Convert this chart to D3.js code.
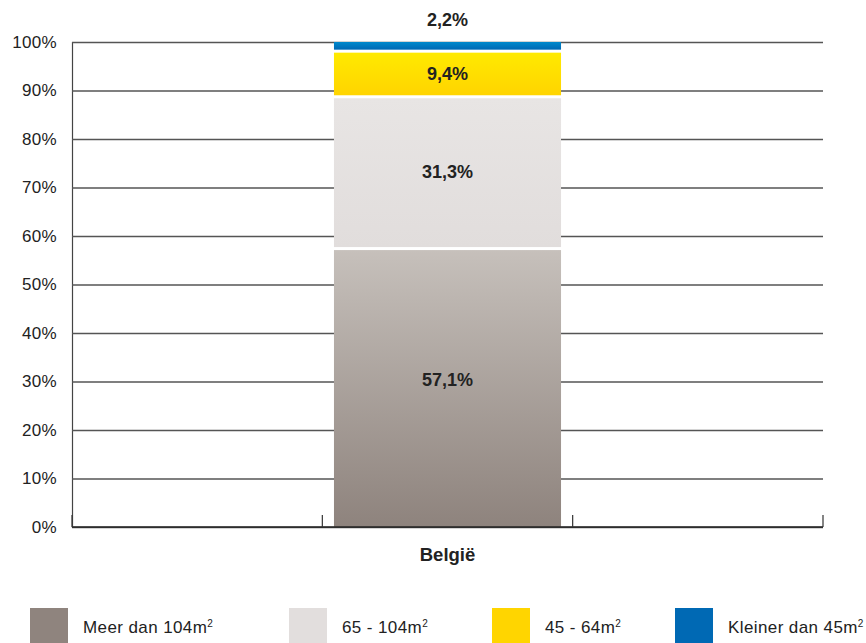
<!DOCTYPE html>
<html>
<head>
<meta charset="utf-8">
<script src="https://cdn.jsdelivr.net/npm/d3@7"></script>
<style>
  body { margin: 0; background: #fff; }
  text { font-family: "Liberation Sans", Arial, Helvetica, sans-serif; fill: #222; }
</style>
</head>
<body>
<div id="chart"></div>
<script>
// categories on the x axis (only the middle one has data)
const categories = ["", "België", " "];
const seriesNames = ["Meer dan 104m", "65 - 104m", "45 - 64m", "Kleiner dan 45m"];
const seriesValues = [57.1, 31.3, 9.4, 2.2];   // België, % share
const seriesColors = [
  ["#c6c0bb", "#8e837d"],   // top, bottom of gradient
  ["#e8e5e4", "#e1dddc"],
  ["#ffea00", "#ffd400"],
  ["#0089cc", "#0068b3"]
];
const legendColors = ["#8f847e", "#e2dedd", "#ffd500", "#0069b4"];
const yTicks = [0, 10, 20, 30, 40, 50, 60, 70, 80, 90, 100];

const width = 866, height = 643;
const margin = { top: 42, right: 43, bottom: 116, left: 72 };
const innerW = width - margin.left - margin.right;
const innerH = height - margin.top - margin.bottom;

const svg = d3.select("#chart").append("svg")
  .attr("width", width)
  .attr("height", height);

const defs = svg.append("defs");
seriesColors.forEach((c, i) => {
  const g = defs.append("linearGradient")
    .attr("id", "grad" + i)
    .attr("x1", 0).attr("y1", 0).attr("x2", 0).attr("y2", 1);
  g.append("stop").attr("offset", "0%").attr("stop-color", c[0]);
  g.append("stop").attr("offset", "100%").attr("stop-color", c[1]);
});

const chart = svg.append("g")
  .attr("transform", `translate(${margin.left},${margin.top})`);

const x = d3.scaleBand().domain(categories).range([0, innerW]).padding(0);
const y = d3.scaleLinear().domain([0, 100]).range([innerH, 0]);

// grid + y labels
const yAxis = chart.append("g")
  .call(d3.axisLeft(y)
    .tickValues(yTicks)
    .tickSize(-innerW)
    .tickPadding(15)
    .tickFormat(d => d + "%"));
yAxis.select(".domain").attr("stroke", "#444").attr("stroke-width", 1.2);
yAxis.selectAll(".tick line").attr("stroke", "#555").attr("stroke-width", 1.3);
yAxis.selectAll(".tick text")
  .attr("font-size", 17)
  .attr("letter-spacing", 0.3)
  .attr("fill", "#222");

// stacked data
let acc = 0;
const stack = seriesValues.map((v, i) => {
  const d = { i, name: seriesNames[i], value: v, y0: acc, y1: acc + v };
  acc += v;
  return d;
});

const barW = x.bandwidth() * 0.907;
const barX = x("België") + (x.bandwidth() - barW) / 2;
const gap = 3;

chart.append("g")
  .selectAll("rect")
  .data(stack)
  .join("rect")
  .attr("x", barX)
  .attr("width", barW)
  .attr("y", d => y(Math.min(d.y1, 100)))
  .attr("height", d => y(d.y0) - y(Math.min(d.y1, 100)) - (d.i > 0 ? gap : 0))
  .attr("fill", d => `url(#grad${d.i})`);

// value labels
chart.append("g")
  .selectAll("text")
  .data(stack)
  .join("text")
  .attr("x", barX + barW / 2)
  .attr("y", d => d.value < 5 ? y(100) - 22
    : (y(d.y0) + y(d.y1)) / 2 - (d.i === 0 ? 9 : 2))
  .attr("dy", "0.35em")
  .attr("text-anchor", "middle")
  .attr("font-size", 18)
  .attr("font-weight", "bold")
  .text(d => d3.format(".1f")(d.value).replace(".", ",") + "%");

// x axis baseline with upward ticks at band boundaries
const xg = chart.append("g").attr("transform", `translate(0,${innerH})`);
xg.append("line")
  .attr("x1", 0).attr("x2", innerW)
  .attr("stroke", "#222").attr("stroke-width", 1.3);
const bounds = categories.map(c => x(c)).concat([innerW]);
xg.selectAll(".xt")
  .data(bounds)
  .join("line")
  .attr("class", "xt")
  .attr("x1", d => d).attr("x2", d => d)
  .attr("y1", 0).attr("y2", -12)
  .attr("stroke", "#333").attr("stroke-width", 1.2);
xg.selectAll(".xl")
  .data(categories)
  .join("text")
  .attr("class", "xl")
  .attr("x", d => x(d) + x.bandwidth() / 2)
  .attr("y", 28)
  .attr("dy", "0.35em")
  .attr("text-anchor", "middle")
  .attr("font-size", 18.5)
  .attr("font-weight", "bold")
  .text(d => d.trim());

// legend
const legendX = [30, 289, 492, 675];
const legend = svg.append("g").attr("transform", "translate(0,608)");
const items = legend.selectAll("g")
  .data(seriesNames)
  .join("g")
  .attr("transform", (d, i) => `translate(${legendX[i]},0)`);
items.append("rect")
  .attr("width", 38).attr("height", 36)
  .attr("fill", (d, i) => legendColors[i]);
const lt = items.append("text")
  .attr("x", 53)
  .attr("y", 25)
  .attr("font-size", 17)
  .attr("letter-spacing", 0.4);
lt.append("tspan").text(d => d);
lt.append("tspan")
  .attr("font-size", 10)
  .attr("dy", -6)
  .attr("letter-spacing", 0)
  .text("2");
</script>
</body>
</html>
